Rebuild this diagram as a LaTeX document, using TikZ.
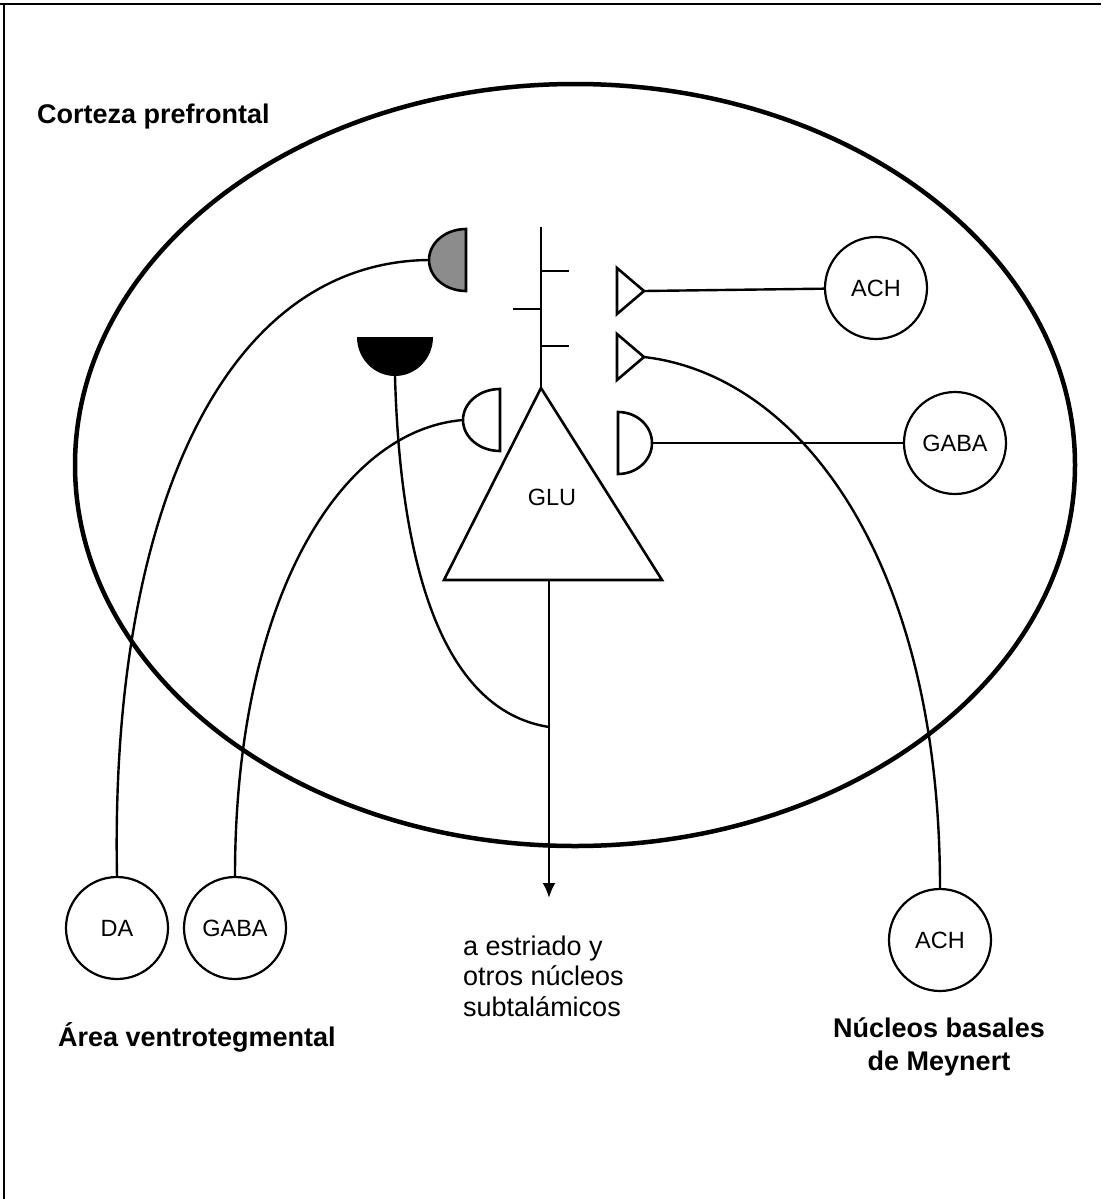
\documentclass[tikz,border=0pt]{standalone}
\usepackage{fontspec}
\setmainfont{Liberation Sans}
\usepackage{tikz}
\usetikzlibrary{arrows.meta}

\begin{document}
\begin{tikzpicture}[x=1pt, y=1pt,
	cell/.style={circle, draw, line width=2.2pt, minimum size=102pt, inner sep=0pt, font=\fontsize{23.5}{26}\selectfont},
	region/.style={font=\fontsize{27}{33}\selectfont\bfseries, inner sep=0pt},
	fibre/.style={line width=2.4pt},
	term/.style={line width=2.6pt}]
	%\draw[help lines, step=100] (0,-1199) grid (1104,0);
	\useasboundingbox (0,0) rectangle (1104,-1199);
	\draw[line width=2.5pt] (0,-4) -- (1101,-4);
	\draw[line width=2.5pt] (4,-4) -- (4,-1199);
	\draw[line width=4.5pt] (575,-465) ellipse [x radius=500pt, y radius=381pt];
	\node[region, anchor=base west] (cortex) at (37,-123) {Corteza prefrontal};
		% pyramidal cell
		\draw[term] (444,-580) -- (541,-388) -- (662,-580) -- cycle;
		\node[font=\fontsize{23.5}{26}\selectfont] (glu) at (552,-497) {GLU};
		\draw[term] (541,-227) -- (541,-388);
		\draw[term] (541,-271) -- (569,-271);
		\draw[term] (513,-309) -- (541,-309);
		\draw[term] (541,-346) -- (569,-346);
		\coordinate (base) at (549,-580);
		\coordinate (join) at (549,-727);
		\coordinate (tip) at (549,-898);
		\draw[fibre, -{Latex[length=15pt, width=13pt]}] (base) -- (tip);
		% cell bodies
		\node[cell] (achA) at (876,-288) {ACH};
		\node[cell] (gabaA) at (955,-443) {GABA};
		\node[cell] (da) at (117,-928) {DA};
		\node[cell] (gabaB) at (235,-928) {GABA};
		\node[cell] (achB) at (940,-940) {ACH};
		% terminals on the right
		\foreach \y/\n in {291/a, 357/b}{
		  \draw[term] (617,-\y+23) -- (644,-\y) -- (617,-\y-23) -- cycle;
		  \coordinate (ach\n) at (644,-\y);
		}
		\draw[term] (618,-412) arc[start angle=90, end angle=-90, x radius=34pt, y radius=31pt] -- cycle;
		\coordinate (gabaR) at (652,-443);
		\draw[fibre] (acha) -- (achA);
		\draw[fibre] (achb) .. controls (800,-375) and (940,-560) .. (achB.north);
		\draw[fibre] (gabaR) -- (gabaA);
		% terminals on the left
		\draw[term, fill=black!45] (466,-229) arc[start angle=90, end angle=270, x radius=37pt, y radius=31pt] -- cycle;
		\coordinate (daT) at (429,-260);
		\draw[term] (500,-389) arc[start angle=90, end angle=270, x radius=37pt, y radius=31pt] -- cycle;
		\coordinate (gabaL) at (463,-420);
		\fill (357,-337) arc[start angle=180, end angle=360, x radius=38pt, y radius=39pt] -- cycle;
		\coordinate (blk) at (395,-376);
		\draw[fibre] (daT) .. controls (220,-262) and (110,-520) .. (da.north);
		\draw[fibre] (gabaL) .. controls (340,-430) and (235,-600) .. (gabaB.north);
		\draw[fibre] (blk) .. controls (400,-560) and (440,-710) .. (join);
	\node[region, anchor=base west] (vta) at (58,-1046) {Área ventrotegmental};
	\node[region, align=center, anchor=base] (nbm) at (939,-1070) {Núcleos basales\\de Meynert};
	\node[font=\fontsize{27}{30.5}\selectfont, align=left, anchor=base west, inner sep=0pt] (dest) at (463,-1016) {a estriado y\\otros núcleos\\subtalámicos};
\end{tikzpicture}
\end{document}
